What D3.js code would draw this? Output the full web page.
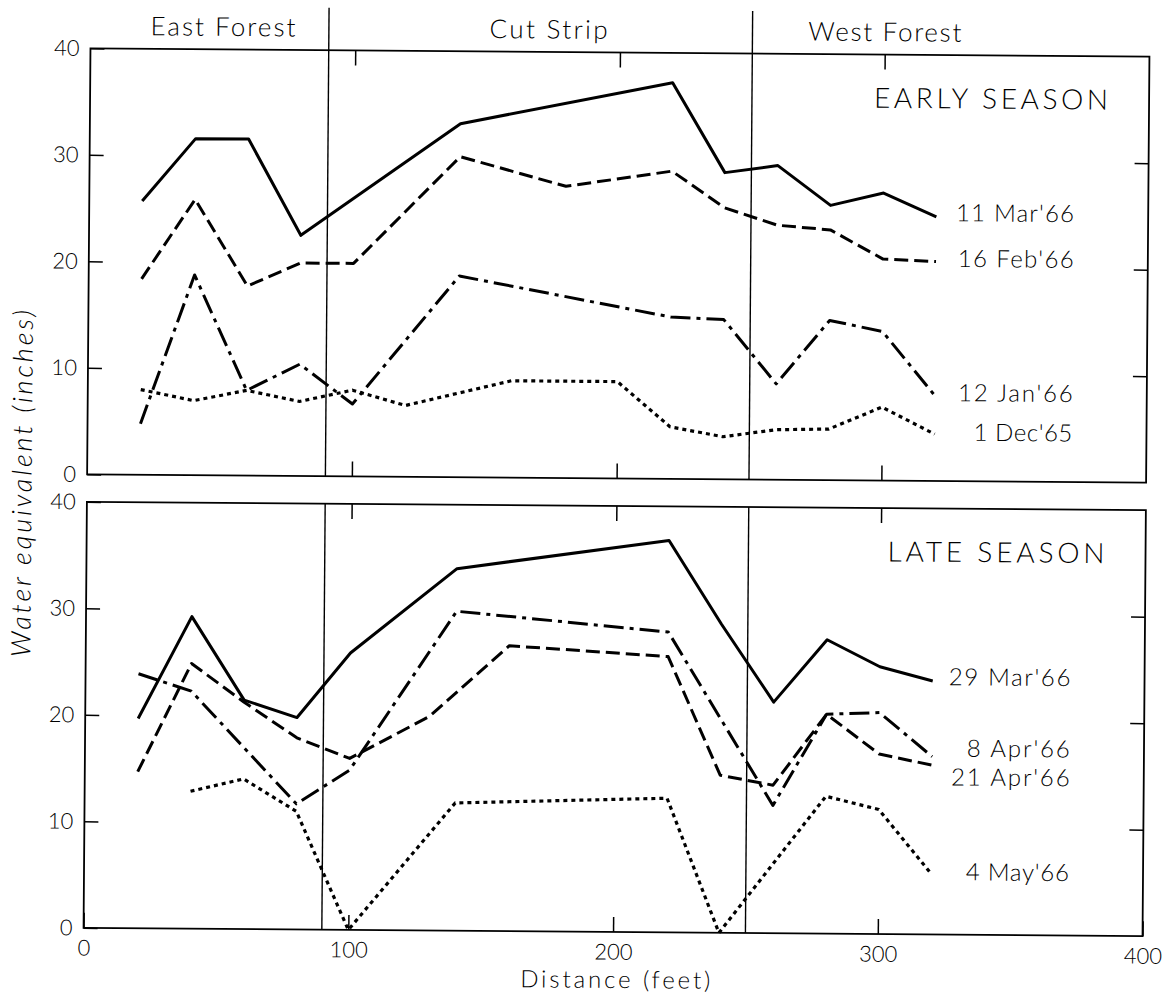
<!DOCTYPE html>
<html><head><meta charset="utf-8">
<script src="https://cdn.jsdelivr.net/npm/d3@7"></script>
<style>
html,body{margin:0;padding:0;background:#fff;}
svg{display:block;}
text{font-family:Lato,"Open Sans",sans-serif;font-weight:300;fill:#000;}
</style></head>
<body><svg id="c" width="1170" height="996"></svg>
<script>
// ---------- data ----------
const regionNames = ["East Forest", "Cut Strip", "West Forest"];
const regionBoundaries = [90, 250];
const yTickValues = [0, 10, 20, 30, 40];
const xTickValues = [0, 100, 200, 300, 400];
const panelTitles = ["EARLY SEASON", "LATE SEASON"];

// Early season
const xMar11 = [20, 40, 60, 80, 140, 220, 240, 260, 280, 300, 320];
const mar11  = [25.7, 31.6, 31.6, 22.6, 33.2, 37.2, 28.8, 29.5, 25.8, 27.0, 24.8];
const xFeb16 = [20, 40, 60, 80, 100, 140, 180, 220, 240, 260, 280, 300, 320];
const feb16  = [18.4, 25.9, 17.8, 20.0, 20.0, 30.1, 27.4, 28.9, 25.5, 23.9, 23.5, 20.8, 20.6];
const xJan12 = [20, 40, 60, 80, 100, 140, 220, 240, 260, 280, 300, 320];
const jan12  = [4.8, 18.8, 8.0, 10.5, 6.8, 18.9, 15.2, 15.0, 9.0, 15.0, 14.0, 8.0];
const xDec1  = [20, 40, 60, 80, 100, 120, 160, 200, 220, 240, 260, 280, 300, 320];
const dec1   = [8.0, 7.0, 8.0, 7.0, 8.1, 6.7, 9.1, 9.1, 4.9, 4.0, 4.7, 4.8, 6.9, 4.4];

// Late season
const xMar29 = [20, 40, 60, 80, 100, 140, 220, 240, 260, 280, 300, 320];
const mar29  = [19.7, 29.3, 21.5, 19.9, 26.0, 34.0, 36.8, 29.0, 21.7, 27.6, 25.1, 23.8];
const xApr8  = [20, 40, 80, 100, 140, 220, 260, 280, 300, 320];
const apr8   = [23.9, 22.3, 11.8, 15.0, 30.0, 28.2, 12.0, 20.6, 20.8, 16.7];
const xApr21 = [20, 40, 60, 80, 100, 130, 160, 220, 240, 260, 280, 300, 320];
const apr21  = [14.7, 24.9, 21.3, 18.0, 16.1, 20.1, 26.8, 25.9, 14.8, 13.9, 20.6, 16.9, 15.9];
const xMay4  = [40, 60, 80, 100, 140, 220, 240, 280, 300, 320];
const may4   = [12.9, 14.1, 11.1, 0, 12.0, 12.6, 0, 12.9, 11.7, 5.7];

const earlyNames = ["11 Mar'66", "16 Feb'66", "12 Jan'66", "1 Dec'65"];
const lateNames  = ["29 Mar'66", "8 Apr'66", "21 Apr'66", "4 May'66"];

// ---------- layout / styles ----------
const styles = {
  solid:   {dash: null,        w: 3.0},
  dashed:  {dash: "14,6",      w: 3.0},
  dashdot: {dash: "20,6,4,6",  w: 3.0},
  dotted:  {dash: "4,4",       w: 3.2}
};
const earlySeries = [
  {name: earlyNames[0], xs: xMar11, ys: mar11, style: "solid",   labelY: 25.2, labelW: 118},
  {name: earlyNames[1], xs: xFeb16, ys: feb16, style: "dashed",  labelY: 20.9, labelW: 116},
  {name: earlyNames[2], xs: xJan12, ys: jan12, style: "dashdot", labelY: 8.3,  labelW: 114.5},
  {name: earlyNames[3], xs: xDec1,  ys: dec1,  style: "dotted",  labelY: 4.6,  labelW: 98.7}
];
const lateSeries = [
  {name: lateNames[0], xs: xMar29, ys: mar29, style: "solid",   labelY: 24.2, labelW: 121.7},
  {name: lateNames[1], xs: xApr8,  ys: apr8,  style: "dashdot", labelY: 17.5, labelW: 103},
  {name: lateNames[2], xs: xApr21, ys: apr21, style: "dashed",  labelY: 14.8, labelW: 118.6},
  {name: lateNames[3], xs: xMay4,  ys: may4,  style: "dotted",  labelY: 5.9,  labelW: 103}
];

const svg = d3.select("#c");
const root = svg.append("g").attr("transform", "rotate(0.45,616,492)");

const x = d3.scaleLinear().domain([0, 400]).range([87, 1146]);
const yTop = d3.scaleLinear().domain([0, 40]).range([478.5, 52.5]);
const yBot = d3.scaleLinear().domain([0, 40]).range([932, 506]);

function panel(y, series, title, showX, titleLen) {
  const g = root.append("g");
  const [y0, y1] = y.range();
  // frame
  g.append("rect").attr("x", x(0)).attr("y", y1).attr("width", x(400) - x(0)).attr("height", y0 - y1)
    .attr("fill", "none").attr("stroke", "#000").attr("stroke-width", 1.8);
  // left axis with labels
  const la = g.append("g").attr("transform", `translate(${x(0)},0)`)
    .call(d3.axisLeft(y).tickValues(yTickValues).tickSizeInner(-14).tickSizeOuter(0).tickPadding(11));
  // right axis
  const ra = g.append("g").attr("transform", `translate(${x(400)},0)`)
    .call(d3.axisRight(y).tickValues([10, 20, 30]).tickSizeInner(-14).tickSizeOuter(0).tickFormat(""));
  // top axis
  const ta = g.append("g").attr("transform", `translate(0,${y1})`)
    .call(d3.axisTop(x).tickValues([100, 200, 300]).tickSizeInner(-15).tickSizeOuter(0).tickFormat(""));
  // bottom axis
  const ba = g.append("g").attr("transform", `translate(0,${y0})`)
    .call(d3.axisBottom(x).tickValues(showX ? xTickValues : [100, 200, 300]).tickSizeInner(-15).tickSizeOuter(0).tickPadding(12)
      .tickFormat(showX ? d3.format("d") : ""));
  [la, ra, ta, ba].forEach(a => {
    a.select(".domain").remove();
    a.selectAll("line").attr("stroke", "#000").attr("stroke-width", 1.5);
    a.selectAll("text").style("font-family", "Lato").style("font-weight", 300).style("font-size", "22px").attr("fill", "#000");
  });
  // region boundary lines
  regionBoundaries.forEach(b => {
    g.append("line").attr("x1", x(b)).attr("x2", x(b))
      .attr("y1", showX ? y1 : 10).attr("y2", y0)
      .attr("stroke", "#000").attr("stroke-width", 1.4);
  });
  // series
  const line = d3.line().x(d => x(d[0])).y(d => y(d[1]));
  series.forEach(s => {
    const pts = s.xs.map((v, i) => [v, s.ys[i]]);
    const st = styles[s.style];
    g.append("path").attr("d", line(pts)).attr("fill", "none").attr("stroke", "#000")
      .attr("stroke-width", st.w).attr("stroke-linejoin", "round")
      .attr("stroke-dasharray", st.dash);
    g.append("text").attr("x", x(372)).attr("y", y(s.labelY)).attr("dy", "0.35em")
      .attr("text-anchor", "end").style("font-size", "24px")
      .attr("textLength", s.labelW).attr("lengthAdjust", "spacing").text(s.name);
  });
  // panel title
  g.append("text").attr("x", x(384.5)).attr("y", y(35.0)).attr("text-anchor", "end")
    .style("font-size", "28px").attr("textLength", titleLen).attr("lengthAdjust", "spacing").text(title);
}

panel(yTop, earlySeries, panelTitles[0], false, 234);
panel(yBot, lateSeries, panelTitles[1], true, 217);

// region labels
const regionLabelAt = [50, 173, 300];
const regionLabelW = [145, 118, 153];
regionNames.forEach((n, i) => {
  root.append("text").attr("x", x(regionLabelAt[i])).attr("y", 39).attr("text-anchor", "middle")
    .style("font-size", "26px").attr("textLength", regionLabelW[i]).attr("lengthAdjust", "spacing").text(n);
});

// axis titles
root.append("text").attr("x", x(201)).attr("y", 988).attr("text-anchor", "middle")
  .style("font-size", "24px").attr("textLength", 190).attr("lengthAdjust", "spacing").text("Distance (feet)");
root.append("text").attr("transform", "translate(31.5,488) rotate(-90)").attr("text-anchor", "middle")
  .style("font-size", "27px").style("font-style", "italic")
  .attr("textLength", 347).attr("lengthAdjust", "spacing").text("Water equivalent (inches)");
</script></body></html>
